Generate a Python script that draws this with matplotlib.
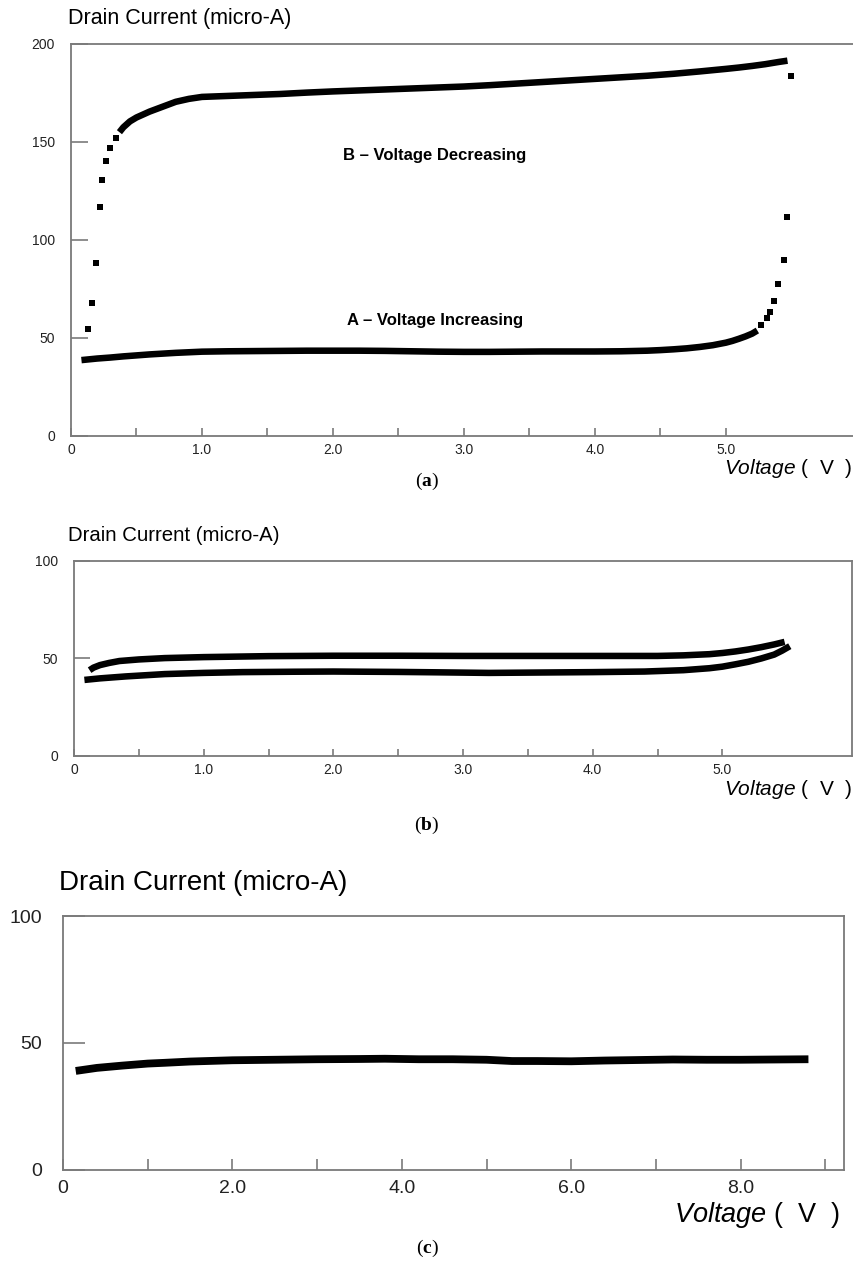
import matplotlib
matplotlib.use('Agg')
import matplotlib.pyplot as plt

plt.rcParams['font.family'] = ['Liberation Sans', 'DejaVu Sans']
plt.rcParams['mathtext.fontset'] = 'custom'
plt.rcParams['mathtext.it'] = 'Liberation Sans:italic'
plt.rcParams['mathtext.rm'] = 'Liberation Sans'
plt.rcParams['mathtext.bf'] = 'Liberation Serif:bold'

# ---------- data ----------
# (a) A - voltage increasing: dense part, then the sparse tail
a_inc_v = [0.08, 0.2, 0.3, 0.4, 0.5, 0.6, 0.7, 0.8, 0.9, 1.0, 1.2, 1.4, 1.6, 1.8,
           2.0, 2.2, 2.4, 2.6, 2.8, 3.0, 3.2, 3.4, 3.6, 3.8, 4.0, 4.2, 4.4, 4.5,
           4.6, 4.7, 4.8, 4.9, 5.0, 5.05, 5.1, 5.15, 5.2, 5.24]
a_inc_i = [38.7, 39.5, 40.0, 40.6, 41.1, 41.6, 42.0, 42.4, 42.7, 43.0, 43.2, 43.3,
           43.4, 43.5, 43.5, 43.5, 43.4, 43.2, 43.0, 42.9, 42.9, 43.0, 43.1, 43.1,
           43.1, 43.2, 43.5, 43.8, 44.2, 44.7, 45.4, 46.3, 47.6, 48.5, 49.6, 50.8,
           52.2, 53.8]
a_inc_tail_v = [5.27, 5.31, 5.34, 5.37, 5.40, 5.44, 5.47]
a_inc_tail_i = [56.6, 60.2, 63.3, 69.0, 77.6, 89.8, 111.7]

# (a) B - voltage decreasing: sparse head, dense part, last point
a_dec_head_v = [0.13, 0.16, 0.19, 0.22, 0.24, 0.27, 0.30, 0.34]
a_dec_head_i = [54.6, 68.0, 88.0, 117.0, 130.5, 140.5, 147.0, 152.0]
a_dec_v = [0.37, 0.4, 0.45, 0.5, 0.6, 0.7, 0.8, 0.9, 1.0, 1.2, 1.4, 1.6, 1.8, 2.0,
           2.2, 2.4, 2.6, 2.8, 3.0, 3.2, 3.4, 3.6, 3.8, 4.0, 4.2, 4.4, 4.6, 4.8,
           5.0, 5.1, 5.2, 5.3, 5.4, 5.47]
a_dec_i = [155, 157.5, 160.5, 162.5, 165.5, 168, 170.5, 172, 173, 173.5, 174, 174.5,
           175.2, 175.8, 176.3, 176.8, 177.3, 177.8, 178.3, 179, 179.8, 180.6, 181.4,
           182.2, 183, 183.8, 184.8, 186, 187.3, 188, 188.8, 189.7, 190.8, 191.5]
a_dec_last_v = [5.50]
a_dec_last_i = [183.8]

# (b) second cycle
b_dec_v = [0.12, 0.15, 0.2, 0.27, 0.35, 0.5, 0.7, 1.0, 1.5, 2.0, 2.5, 3.0, 3.5, 4.0,
           4.5, 4.7, 4.9, 5.0, 5.1, 5.2, 5.3, 5.4, 5.48]
b_dec_i = [44, 45.3, 46.6, 47.7, 48.7, 49.5, 50.2, 50.7, 51.2, 51.4, 51.4, 51.3, 51.3,
           51.3, 51.3, 51.6, 52.2, 52.8, 53.6, 54.6, 55.8, 57.2, 58.5]
b_inc_v = [0.08, 0.2, 0.4, 0.7, 1.0, 1.3, 1.7, 2.0, 2.5, 2.8, 3.2, 3.6, 4.0, 4.4, 4.7,
           4.9, 5.0, 5.1, 5.2, 5.3, 5.4, 5.46, 5.52]
b_inc_i = [39, 39.8, 40.8, 42, 42.6, 43, 43.2, 43.3, 43.1, 42.9, 42.6, 42.8, 43, 43.3,
           44, 45, 45.8, 47, 48.3, 50, 52, 54, 56.3]

# (c) extended sweep
c_v = [0.15, 0.4, 0.7, 1.0, 1.2, 1.5, 1.8, 2.0, 2.5, 3.0, 3.5, 3.8, 4.2, 4.6, 5.0,
       5.3, 5.6, 6.0, 6.4, 6.8, 7.2, 7.6, 8.0, 8.4, 8.8]
c_i = [39, 40.2, 41.1, 41.9, 42.2, 42.7, 43, 43.2, 43.4, 43.6, 43.7, 43.8, 43.6, 43.6,
       43.4, 42.9, 42.9, 42.8, 43.1, 43.3, 43.5, 43.4, 43.4, 43.5, 43.6]

# ticks
ab_xticks = [0, 0.5, 1.0, 1.5, 2.0, 2.5, 3.0, 3.5, 4.0, 4.5, 5.0]
ab_xlabels = ['0', '', '1.0', '', '2.0', '', '3.0', '', '4.0', '', '5.0']
a_yticks = [0, 50, 100, 150, 200]
b_yticks = [0, 50, 100]
c_xticks = [0, 1, 2, 3, 4, 5, 6, 7, 8, 9]
c_xlabels = ['0', '', '2.0', '', '4.0', '', '6.0', '', '8.0', '']
c_yticks = [0, 50, 100]

SPINE = '#7a7a7a'
MS = 4.3

fig = plt.figure(figsize=(8.54, 12.68), dpi=100)


def style(ax, xlim, ylim, xt, xl, yt, ylen, xlen, fs, ypad, xpad, right=True):
    ax.set_xlim(*xlim)
    ax.set_ylim(*ylim)
    ax.set_xticks(xt)
    ax.set_xticklabels(xl)
    ax.set_yticks(yt)
    ax.set_yticklabels([str(t) for t in yt])
    for s in ax.spines.values():
        s.set_color(SPINE)
        s.set_linewidth(1.3)
    ax.spines['right'].set_visible(right)
    ax.tick_params(axis='y', direction='in', length=ylen, width=1.2, color=SPINE,
                   labelsize=fs, pad=ypad, labelcolor='#222222')
    ax.tick_params(axis='x', direction='in', length=xlen, width=1.2, color=SPINE,
                   labelsize=fs, pad=xpad, labelcolor='#222222')


def dots(ax, v, i, ms=MS):
    ax.plot(v, i, ls='none', color='black', marker='s', ms=ms, mew=0)


def band(ax, v, i, lw=4.7):
    ax.plot(v, i, color='black', lw=lw, solid_capstyle='butt', solid_joinstyle='round')


# ---------- (a) ----------
ax1 = fig.add_axes([0.0831, 0.6562, 0.9157, 0.3091])
band(ax1, a_inc_v, a_inc_i)
dots(ax1, a_inc_tail_v, a_inc_tail_i)
dots(ax1, a_dec_head_v, a_dec_head_i)
band(ax1, a_dec_v, a_dec_i)
dots(ax1, a_dec_last_v, a_dec_last_i)
ax1.text(2.78, 143, 'B \u2013 Voltage Decreasing', ha='center', va='center',
         fontsize=12, fontweight='bold')
ax1.text(2.78, 58.7, 'A \u2013 Voltage Increasing', ha='center', va='center',
         fontsize=12, fontweight='bold')
style(ax1, (0, 5.97), (0, 200), ab_xticks, ab_xlabels, a_yticks,
      12, 5.8, 10, 11.5, 5, right=False)

# ---------- (b) ----------
ax2 = fig.add_axes([0.0867, 0.4038, 0.911, 0.1538])
band(ax2, b_dec_v, b_dec_i)
band(ax2, b_inc_v, b_inc_i)
style(ax2, (0, 6.0), (0, 100), ab_xticks, ab_xlabels, b_yticks,
      11.5, 5, 10, 11.5, 5)

# ---------- (c) ----------
ax3 = fig.add_axes([0.0738, 0.0773, 0.9145, 0.2003])
band(ax3, c_v, c_i, lw=5.6)
style(ax3, (0, 9.22), (0, 100), c_xticks, c_xlabels, c_yticks,
      16, 8, 14, 15, 7)

# ---------- titles, axis names, captions ----------
fig.text(0.080, 0.9858, 'Drain Current (micro-A)', fontsize=15.5, va='center')
fig.text(0.080, 0.5773, 'Drain Current (micro-A)', fontsize=14.7, va='center')
fig.text(0.069, 0.3036, 'Drain Current (micro-A)', fontsize=20, va='center')

vlabel = r'$\mathit{Voltage}$ (  V  )'
fig.text(0.998, 0.6309, vlabel, fontsize=15, ha='right', va='center')
fig.text(0.998, 0.3770, vlabel, fontsize=15, ha='right', va='center')
fig.text(0.984, 0.0418, vlabel, fontsize=19.5, ha='right', va='center')

fig.text(0.5, 0.6207, r'($\mathbf{a}$)', fontsize=14, ha='center', va='center',
         family='Liberation Serif')
fig.text(0.5, 0.3494, r'($\mathbf{b}$)', fontsize=14, ha='center', va='center',
         family='Liberation Serif')
fig.text(0.5, 0.0158, r'($\mathbf{c}$)', fontsize=14, ha='center', va='center',
         family='Liberation Serif')

fig.savefig('out.png', dpi=100, facecolor='white')
